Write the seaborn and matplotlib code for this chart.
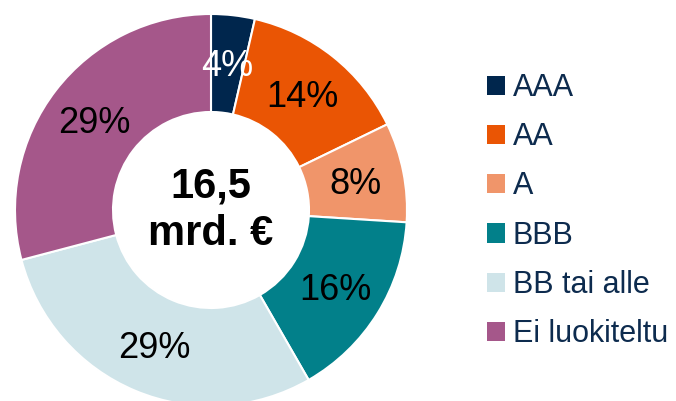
import matplotlib
matplotlib.use("Agg")
import matplotlib.pyplot as plt
import seaborn as sns

# rating split of the portfolio
ratings = ["AAA", "AA", "A", "BBB", "BB tai alle", "Ei luokiteltu"]
shares = [3.6, 14.2, 8.2, 15.7, 29.2, 29.1]
colors = ["#00264d", "#ea5504", "#f0956a", "#02808a", "#cfe4e9", "#a5578a"]
label_colors = ["white", "black", "black", "black", "black", "black"]
center_text = "16,5\nmrd. €"

sns.set_theme(style="white")
plt.rcParams["font.family"] = ["Liberation Sans", "DejaVu Sans"]

fig = plt.figure(figsize=(6.76, 4.01), dpi=100)
# square box in pixels: centre (211, 210 from top), radius 196
ax = fig.add_axes([15 / 676, -5 / 401, 392 / 676, 392 / 401])

wedges, texts, autotexts = ax.pie(
    shares,
    colors=colors,
    startangle=90,
    counterclock=False,
    autopct=lambda p: f"{p:.0f}%",
    pctdistance=0.75,
    wedgeprops=dict(width=0.5, edgecolor="white", linewidth=1.5),
    textprops=dict(fontsize=26),
)
for t, c in zip(autotexts, label_colors):
    t.set_color(c)
    x, y = t.get_position()
    t.set_position((x, y - 0.015))

ax.text(0, 0.0, center_text, ha="center", va="center", fontsize=30,
        fontweight="bold", color="black", linespacing=1.25)

ax.set_xlim(-1, 1)
ax.set_ylim(-1, 1)
ax.set_aspect("auto")
ax.axis("off")

leg = fig.legend(
    wedges, ratings,
    loc="upper left",
    bbox_to_anchor=(487 / 676, 1 - 73 / 401),
    frameon=False,
    fontsize=22,
    handlelength=0.59,
    handleheight=0.59,
    handletextpad=0.26,
    labelspacing=0.63,
    borderpad=0,
    borderaxespad=0,
)
for t in leg.get_texts():
    t.set_color("#0d2b4e")
for h in leg.legend_handles:
    h.set_edgecolor("none")

fig.savefig("out.png", dpi=100)
